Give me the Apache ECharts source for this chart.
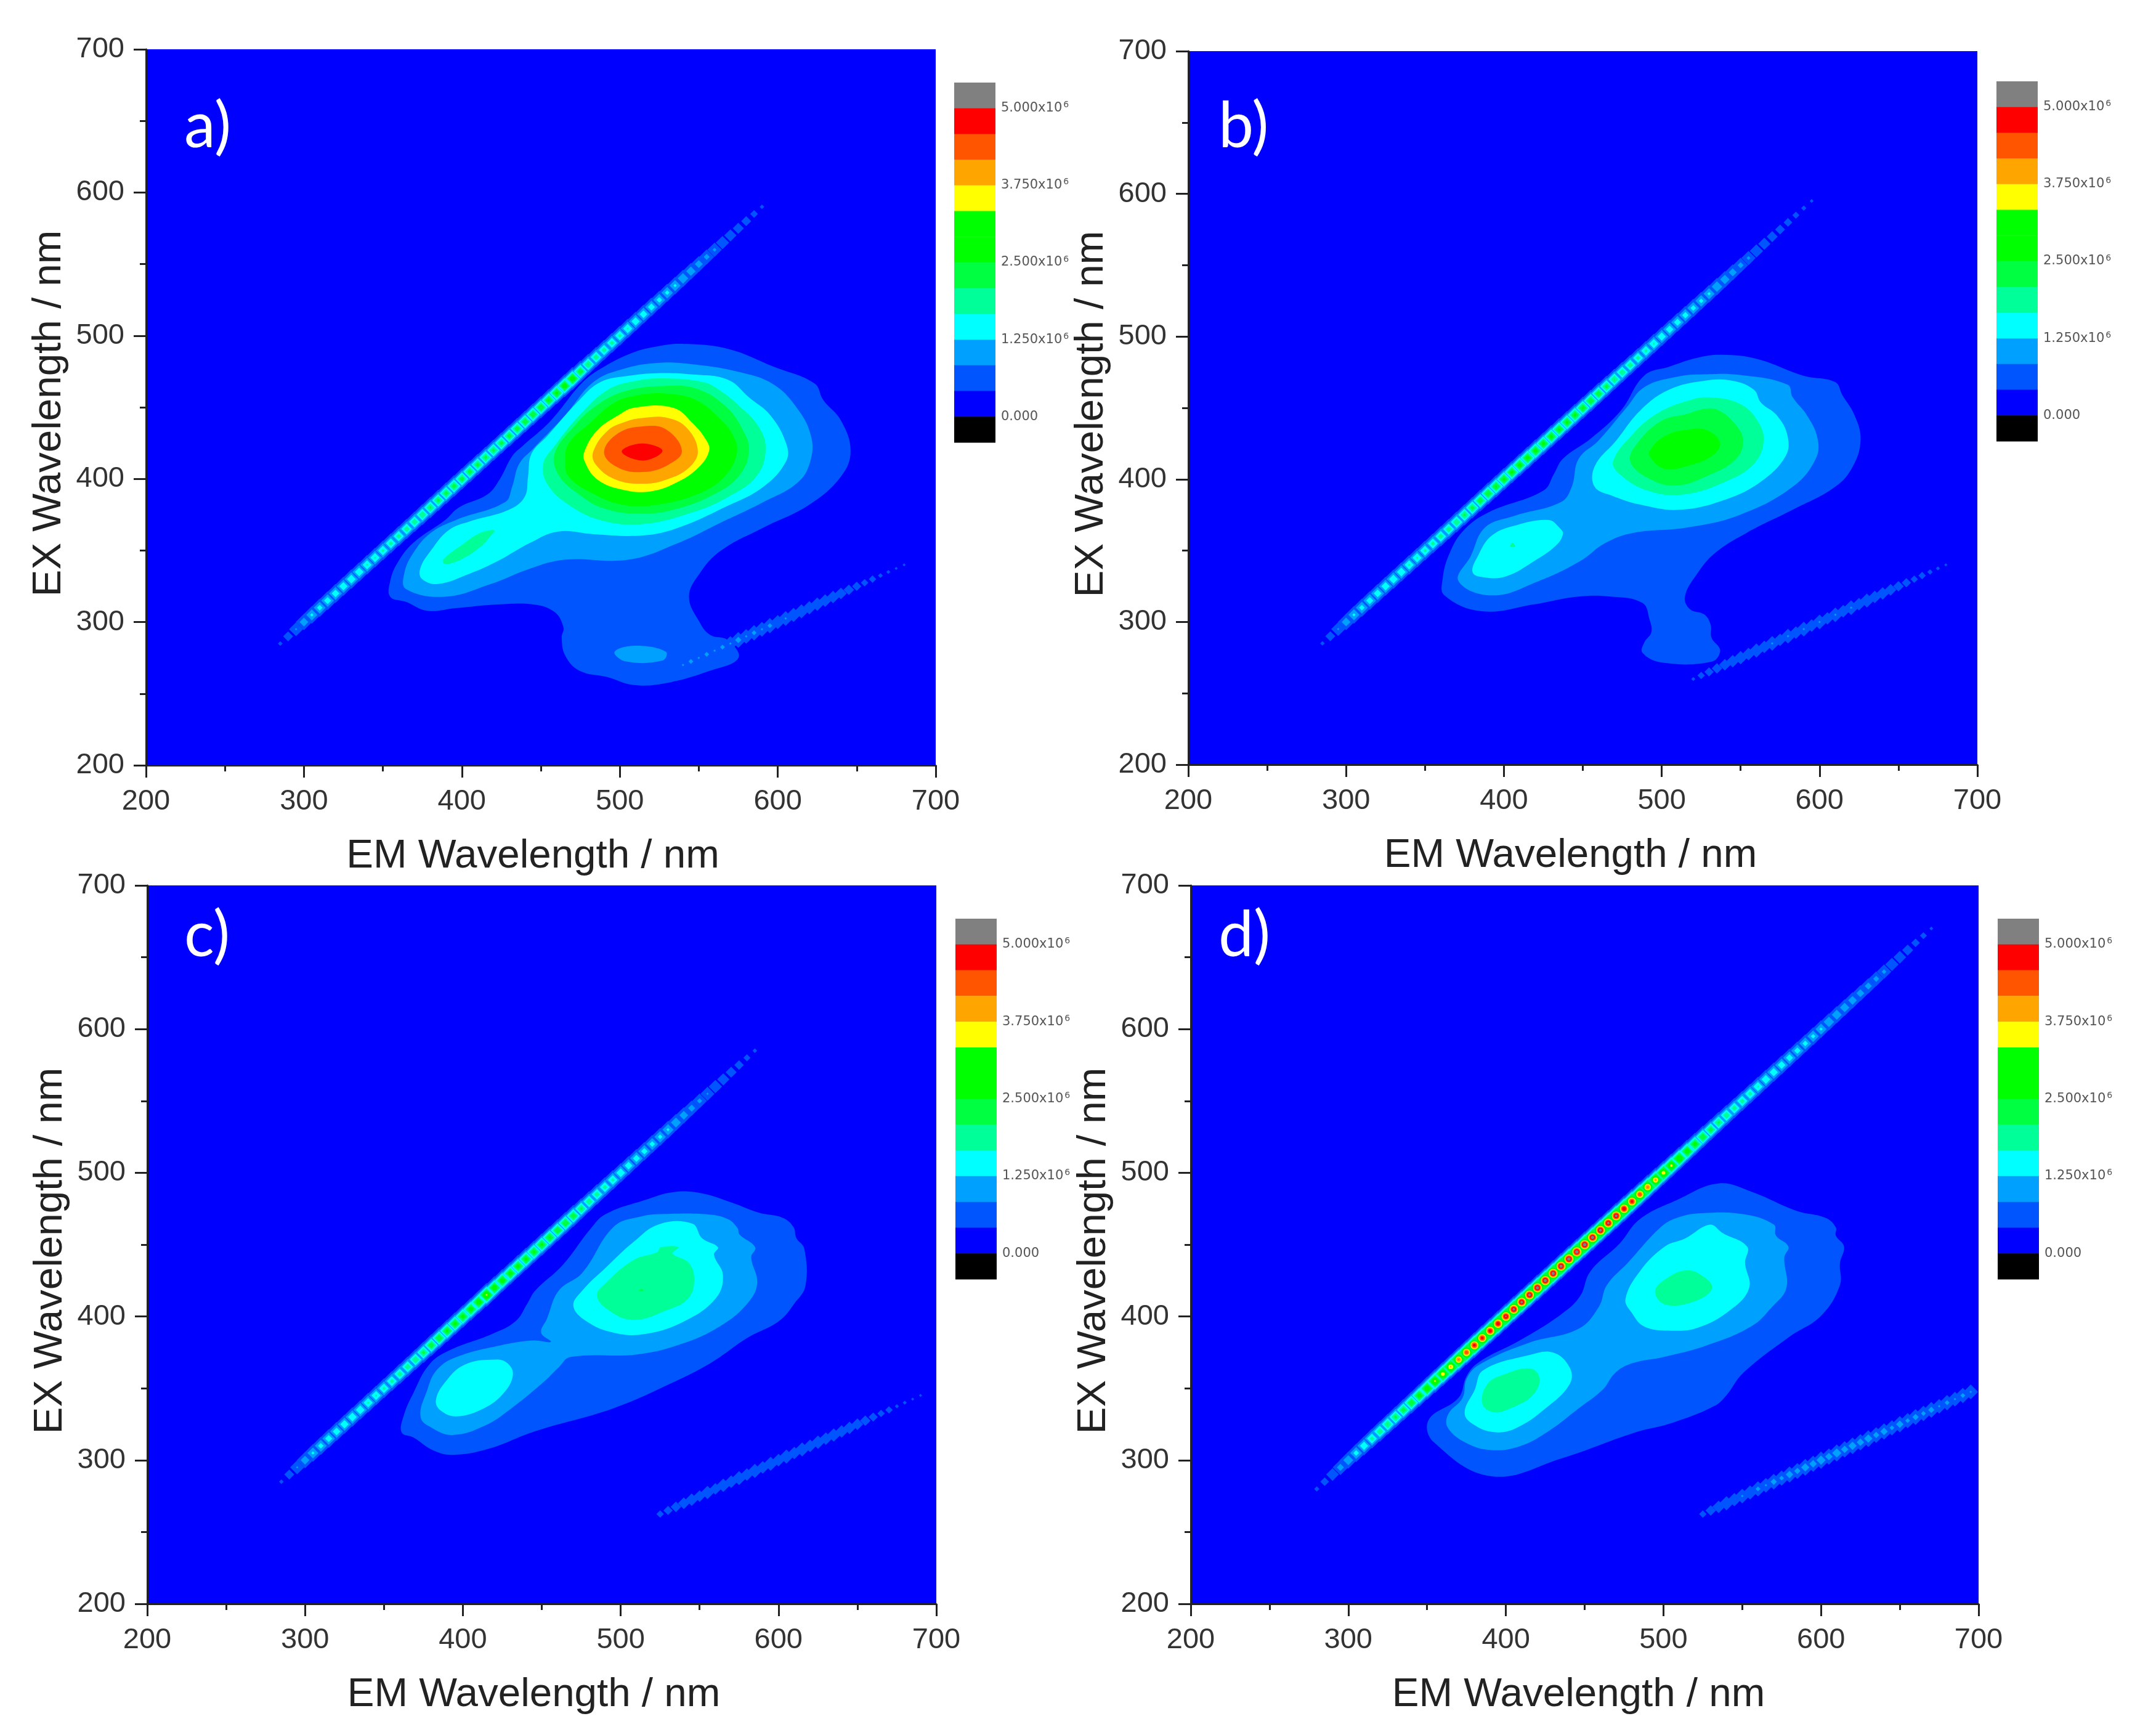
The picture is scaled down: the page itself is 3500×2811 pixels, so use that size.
<!DOCTYPE html>
<html><head><meta charset="utf-8">
<style>html,body{margin:0;padding:0;background:#fff}#c{width:3500px;height:2811px}</style>
<script src="https://cdn.jsdelivr.net/npm/echarts@6/dist/echarts.min.js"></script>
</head><body><div id="c"></div>
<script>
// contour levels (x10^6 counts) and their colours
const levels=[0.4167,0.8333,1.25,1.6667,2.0833,2.5,3.3333,3.75,4.1667,4.5833,5.0];
const levelColors=['#0055ff','#00a0ff','#00ffff','#00ff99','#00ff40','#00ff00','#ffff00','#ffa500','#ff5500','#ff0000','#808080'];
const xTicksTitle='EM Wavelength / nm', yTicksTitle='EX Wavelength / nm';
// colour bar
const barLows=[5,4.5833,4.1667,3.75,3.3333,2.9167,2.5,2.0833,1.6667,1.25,0.8333,0.4167,0,-0.4167];
const barHighs=[5.4167,5,4.5833,4.1667,3.75,3.3333,2.9167,2.5,2.0833,1.6667,1.25,0.8333,0.4167,0];
const barColors=['#808080','#ff0000','#ff5500','#ffa500','#ffff00','#00ff00','#00ff00','#00ff40','#00ff99','#00ffff','#00a0ff','#0055ff','#0000ff','#000000'];
const barTicks=[0,1.25,2.5,3.75,5];
const barTickLabels=['0.000','1.250x10','2.500x10','3.750x10','5.000x10'];

// panel a contours [EM, EX]
const a1=[[539.3,494.3],[568.4,490.8],[597.5,478.3],[623.2,466.7],[628.8,455.1],[640,440.8],[646.1,419.4],[640,401.6],[619.9,381.9],[590.8,365.9],[563.9,349.8],[550.5,333.8],[543.8,317.7],[550.5,299.9],[557.2,291],[568.4,287.4],[575.1,275],[557.2,266],[528.1,257.1],[508,256.2],[492.3,261.5],[474.4,266],[465.4,276.7],[463.2,289.2],[464.3,296.3],[458.7,307],[445.2,312.3],[422.9,312.3],[396,309.7],[378,307.9],[364.6,314.1],[354.6,317.7],[354.6,328.4],[359,340.9],[369.1,355.2],[389.3,371.2],[398.2,380.1],[416.1,389.1],[424,399.8],[431.8,415.8],[438.5,423],[456.4,440.8],[476.6,467.6],[490,478.3],[508,488.1],[523.6,492.5]];
const a2=[[523.6,481],[546,480],[575.1,474.7],[597.5,465.8],[613.2,447.9],[621,430.1],[621,414],[613.2,398],[590.8,383.7],[563.9,369.4],[537,355.2],[505.7,343.6],[465.4,343.6],[443,337.3],[418.4,326.6],[389.3,317.7],[364.6,323.1],[363.5,333.8],[369.1,348],[380.3,362.3],[396,371.2],[427.3,383.7],[431.8,394.4],[436.3,410.5],[445.2,421.2],[465.4,444.4],[483.3,467.6],[501.2,476.5]];
const a2b=[[496.7,279.3],[510.2,283.5],[529.2,279.3],[527,273.1],[503.5,272.6]];
const a3=[[523.6,473.8],[546,472.9],[568.4,469.3],[581.8,456.9],[595.3,444.4],[605.3,424.7],[605.3,412.3],[590.8,394.4],[566.2,380.1],[537,365.9],[514.7,360.5],[483.3,361.4],[460.9,363.2],[443,355.2],[422.9,342.7],[405,333.8],[384.8,326.6],[374.7,330.2],[373.6,337.3],[380.3,349.8],[391.5,364.1],[405,370.3],[429.6,378.4],[439.7,387.3],[441.9,401.6],[444.1,417.6],[454.2,430.1],[474.4,455.1],[487.8,467.6],[505.7,472]];
const a4=[[528.1,470.2],[552.7,467.6],[562.8,462.2],[575.1,451.5],[588.5,435.4],[592.3,419.4],[586.3,401.6],[568.4,387.3],[546,376.6],[514.7,368.5],[487.8,371.2],[467.6,381.9],[454.2,396.2],[451.5,410.5],[458.7,423],[474.4,444.4],[492.3,462.2],[510.2,468.5]];
const a4b=[[420.6,364.1],[411.7,362.3],[400.5,354.3],[388.1,343.6],[389.3,340.5],[399.3,343.6],[411.7,352.5],[418.4,360.5]];
const a5=[[529.2,464.9],[548.2,463.1],[566.2,451.5],[577.3,435.4],[581.8,419.4],[575.1,401.6],[559.4,389.1],[537,379.3],[514.7,375.7],[490,379.3],[472.1,390.8],[460.9,403.3],[458.7,417.6],[469.9,435.4],[485.5,451.5],[503.5,461.3]];
const a6=[[530.3,459.5],[548.2,455.1],[562.8,442.6],[571.8,430.1],[574,417.6],[566.2,401.6],[550.5,390],[523.6,382],[501.2,382],[481.1,390.8],[467.6,401.6],[465.4,412.3],[467.6,424.7],[481.1,439],[496.7,453.3],[512.4,458.6]];
const a7=[[509.1,449.7],[533.7,449.7],[546,439],[555,426.5],[556.5,419.4],[550.5,408.7],[537,398],[519.1,391.2],[501.2,392.6],[485.5,399.8],[477.7,412.3],[477.7,419.4],[485.5,433.7],[499,444.4]];
const a8=[[514.7,442.6],[530.3,442.6],[542.6,435.4],[549.4,419.4],[543.8,407.8],[530.3,399.8],[514.7,396.6],[496.7,399.8],[484.4,410.5],[483.3,419.4],[492.3,433.7],[503.5,439.9]];
const a9=[[514.7,436.7],[529.2,434.6],[539.3,419.4],[530.3,409.6],[514.7,404.8],[499,407.8],[490,418.5],[499,431.9]];
const a10=[[513.5,424.7],[527,419.7],[514.7,412.8],[501.2,419]];

// panel b contours
const b1=[[538.2,487.2],[560.6,484.2],[589.7,472.6],[609.9,468.1],[614.4,459.1],[622.2,444.8],[626,427.8],[621.1,409],[609.9,394.7],[583,378.6],[553.9,362.5],[533.7,348.2],[522.5,333.8],[514.7,317.7],[518,308.8],[527,305.2],[531,298],[531.5,289.1],[537,280.1],[531.5,272.1],[500.1,271.6],[487.8,278.4],[488.9,285.5],[493.4,292.7],[492.3,301.6],[487.8,313.3],[468.7,317.7],[446.3,317.7],[419.4,312.4],[385.8,307.5],[362.3,318.6],[361.2,330.3],[365.6,348.2],[374.6,364.3],[390.3,376.8],[425,392],[431.7,403.7],[437.4,414.4],[455.3,428.7],[474.3,448.4],[488.9,472.6],[504.6,478.8],[522.5,485.1]];
const b2=[[527,473.5],[549.4,473.1],[579.7,466.3],[583,457.4],[592,444.8],[598.7,428.7],[597.6,414.4],[583,394.7],[549.4,375],[515.8,366.1],[482.2,362.5],[464.2,355.3],[448.6,342.8],[421.7,328.5],[392.5,318.6],[371.2,328.8],[379.1,346.4],[388,366.1],[406,374.1],[436.2,384],[443,394.7],[447.4,414.4],[459.8,426.9],[477.7,450.2],[488.9,464.5],[509.1,471.7]];
const b3=[[527,469],[544.9,469],[558.4,462.7],[562.8,453.8],[572.9,444.8],[579.7,430.5],[578.5,416.2],[562.8,398.3],[540.4,385.8],[511.3,378.6],[486.6,382.2],[468.7,388.4],[457.5,394.7],[457.5,409],[471,426.9],[486.6,448.4],[504.6,462.7]];
const b3b=[[428.4,371.4],[435.1,366.1],[437.4,361.6],[432.9,353.5],[419.4,342.8],[401.5,332],[388,331.2],[380.2,334.7],[383.6,346.4],[392.5,360.7],[408.2,367.9]];
const b4=[[529.2,457.4],[549.4,452.9],[560.6,441.2],[564.6,426.9],[558.4,410.8],[540.4,398.3],[513.5,389.3],[491.1,392],[473.2,403.7],[469.2,412.6],[482.2,432.3],[497.9,446.6],[515.8,454.7]];
const b4b=[[404,353],[407,353],[405.5,355.5]];
const b5=[[527,449.3],[536,448.4],[547.2,437.7],[551.6,426.9],[547.2,414.4],[531.5,403.7],[509.1,395.6],[491.1,401],[480,412.6],[484.4,425.1],[500.1,441.2],[515.8,445.7]];
const b6=[[518,435],[529.2,434.1],[537,425.1],[531.5,416.2],[518,409.9],[502.3,407.2],[493.4,414.4],[492.3,419.8],[502.3,430.5]];

// panel c contours
const c1=[[533,486.5],[550.4,485.9],[570.3,479.3],[587.7,472.2],[602.7,468.7],[609.4,462.4],[611.4,454.4],[616.3,447.3],[617.1,421.5],[610.1,409.1],[600.2,396.7],[580.3,385.1],[557.9,368.2],[533,354],[495.6,336.2],[445.9,320.2],[416,307.8],[393.6,303.7],[381.1,306.9],[368.7,315.8],[361.2,319.3],[362.5,330.9],[368.7,346.9],[378.6,366.4],[391.1,376.2],[418.5,387.8],[433.4,396.7],[440.9,409.1],[445.9,418],[463.3,435.8],[480.7,460.7],[490.6,471.3],[515.5,481.1]];
const c2=[[528,471.3],[555.4,471],[567.8,467.8],[574,461.6],[575.3,457.1],[585.2,448.2],[582.7,441.1],[586.5,423.3],[580.3,409.1],[562.8,393.1],[538,380.7],[510.6,373.6],[468.3,371.8],[460.8,364.7],[450.8,354],[430.9,336.2],[413.5,323.8],[393.6,317.5],[381.1,322],[373.2,330],[377.4,348.7],[383.6,362.9],[396.1,371.8],[423.4,379.8],[444.6,383.3],[455.8,382.4],[449.6,388.7],[453.3,398.4],[460.8,418],[475.7,430.4],[495.6,462.4],[513,469.6]];
const c3=[[524.3,464.2],[545.4,464.6],[551.6,454.4],[561.6,448.2],[559.1,442.9],[564.8,428.7],[560.3,412.7],[540.4,396.7],[515.5,387.8],[495.6,388.7],[478.2,396.7],[470,407.3],[475.7,418],[490.6,434],[508.1,451.8]];
const c3b=[[421,370],[428.4,367.3],[431.7,359.3],[426,346.9],[413.5,336.2],[396.1,330.5],[386.1,334.4],[382.9,341.5],[388.6,354],[401,366.4]];
const c4=[[525.5,448.2],[536.7,448.2],[533,443.8],[542.9,437.6],[546.6,426.9],[542.9,412.7],[528,403.8],[508.1,397.6],[493.1,403.8],[484.9,414.4],[490.6,423.3],[508.1,439.3],[523,444.7]];
const c5=[[511.5,417.8],[514.5,417.8],[513,419]];

// panel d contours
const d1=[[534.8,492.6],[555.7,486.9],[584.5,473.5],[602.8,468.7],[609.4,462],[609.4,456.3],[614.6,448.6],[612,437.1],[612,421.8],[600.2,400.7],[579.3,385.4],[550.5,360.6],[540,345.2],[532.2,337.6],[506,326.1],[482.4,319.4],[435.3,301.2],[390.8,288.8],[354.1,312.7],[351,328],[369.9,343.3],[375.1,358.6],[382.9,368.2],[409.1,383.5],[435.3,401.7],[447.1,414.2],[453.6,431.4],[472,450.5],[485,467.7],[508.6,481.1]];
const d2=[[524.3,471.9],[550.5,471.2],[570.1,463.9],[571.4,456.3],[579.3,448.6],[576.7,441],[578,419.9],[568.8,406.5],[555.7,393.1],[526.9,379.7],[500.8,372],[479.8,367.3],[469.3,360.6],[461.5,349.1],[445.8,335.7],[427.4,320.4],[409.1,309.8],[390.8,307],[375.1,311.8],[363.3,322.3],[363.3,331.8],[372.5,343.3],[375.1,356.7],[382.9,366.3],[414.4,381.6],[445.8,391.2],[458.9,406.5],[464.1,421.8],[477.2,437.1],[498.1,462],[508.6,468.7]];
const d3=[[529.5,463.9],[537.4,458.2],[553.1,448.6],[551.8,437.1],[554.4,419.9],[542.6,404.6],[521.7,392.1],[503.4,390.2],[487.7,393.1],[479.8,402.7],[475.9,412.2],[485,431.4],[500.8,448.6],[513.8,454.3]];
const d3b=[[430.1,374.9],[440.5,364.4],[440.5,352.9],[424.8,335.7],[406.5,322.3],[393.4,319.4],[380.3,324.2],[373.8,332.8],[380.3,349.1],[385.6,362.5],[414.4,373]];
const d4=[[513.8,432],[523,429.5],[530.9,419.9],[519.1,410.3],[500.8,408.4],[494.7,418],[503.4,427.5]];
const d4b=[[415.7,363.8],[421.4,356.7],[417,345.2],[403.9,336.6],[392.1,333.4],[385,339.5],[388.2,352.9],[398.6,359.6]];

// peak height of the scatter ridge along EX = EM, one value per 5 nm, and of the second order ridge (EX = EM / 2)
const ridgeStartA=285, ridgeA=[.45,.6,.85,1.1,1.3,1.4,1.5,1.55,1.6,1.65,1.65,1.7,1.7,1.75,1.8,1.85,1.9,1.95,2.05,2.15,2.2,2.25,2.3,2.3,2.3,2.25,2.2,2.2,2.25,2.3,2.35,2.4,2.45,2.5,2.55,2.65,2.85,2.9,2.4,2.1,1.95,1.85,1.8,1.75,1.7,1.6,1.55,1.5,1.4,1.35,1.3,1.25,1.15,1.05,.95,.88,.8,.72,.65,.6,.52,.45];
const ridgeStartB=285, ridgeB=[.45,.6,.85,1.1,1.3,1.4,1.5,1.55,1.6,1.65,1.65,1.7,1.7,1.75,1.8,1.9,1.95,2.05,2.15,2.25,2.4,2.5,2.55,2.6,2.65,2.7,2.7,2.7,2.65,2.65,2.6,2.6,2.6,2.55,2.5,2.4,2.25,2.1,2.0,1.9,1.8,1.75,1.7,1.6,1.55,1.5,1.45,1.4,1.35,1.3,1.25,1.15,1.05,.95,.88,.8,.72,.65,.6,.55,.5,.46,.44];
const ridgeStartC=285, ridgeC=[.45,.6,.85,1.1,1.3,1.4,1.5,1.55,1.6,1.65,1.65,1.7,1.7,1.75,1.8,1.9,1.95,2.05,2.2,2.4,2.5,2.6,2.65,2.7,2.8,2.9,3.4,2.9,2.8,2.7,2.7,2.65,2.6,2.6,2.55,2.5,2.5,2.4,2.15,2.0,1.9,1.8,1.75,1.65,1.55,1.5,1.45,1.4,1.35,1.3,1.2,1.1,1.0,.92,.85,.8,.72,.65,.58,.5,.45];
const ridgeStartD=280, ridgeD=[.46,.55,.75,1.0,1.2,1.4,1.6,1.8,2.0,2.1,2.2,2.3,2.5,2.7,3.0,3.4,3.6,3.8,4.2,4.5,4.8,4.8,4.9,4.95,5.1,5.2,5.2,5.25,5.3,5.3,5.3,5.3,5.35,5.35,5.35,5.3,5.25,5.2,5.2,5.0,4.8,4.5,4.2,3.9,3.6,3.45,3.2,2.9,2.7,2.5,2.3,2.15,2.0,1.9,1.85,1.8,1.7,1.65,1.6,1.55,1.5,1.45,1.4,1.35,1.3,1.25,1.2,1.15,1.1,1.05,1.0,.95,.9,.8,.75,.65,.55,.5,.44];
const stripStartA=535, stripA=[.8,.85,.9,.85,.9,.85,.9,.85,.95,.85,.9,.85,.9,.8,.85,.8,.8,.75,.75,.7,.7,.65,.6,.55,.5,.5,.45,.44,.43,.43];
const stripStartB=520, stripB=[.44,.5,.55,.6,.65,.7,.75,.7,.8,.7,.85,.7,.85,.7,.85,.7,.85,.7,.85,.7,.85,.7,.8,.7,.7,.65,.6,.55,.5,.5,.46,.44,.43];
const stripStartC=525, stripC=[.5,.55,.6,.65,.7,.65,.75,.65,.75,.7,.8,.7,.8,.7,.8,.7,.8,.7,.8,.7,.75,.7,.75,.7,.7,.65,.6,.55,.5,.5,.44,.44,.43,.43];
const stripStartD=525, stripD=[.5,.6,.7,.8,.75,.85,.8,.9,.85,.95,.9,1.0,.95,1.05,1.0,1.1,1.0,1.1,1.0,1.05,1.0,1.05,.95,1.0,.9,1.0,.9,.95,.9,.95,.85,.9,.85,.9,.85];

const panels=[
 {name:'a)',rect:[237,80,1282,1162],bar:[1549,134,67,584],tag:[299,155],xPad:26,
  contours:[[0,a1],[1,a2],[1,a2b],[2,a3],[3,a4],[3,a4b],[4,a5],[5,a6],[6,a7],[7,a8],[8,a9],[9,a10]],ridgeStart:ridgeStartA,ridge:ridgeA,stripStart:stripStartA,strip:stripA},
 {name:'b)',rect:[1929,83,1281,1158],bar:[3241,132,67,584],tag:[1978,155],xPad:40,
  contours:[[0,b1],[1,b2],[2,b3],[2,b3b],[3,b4],[3,b4b],[4,b5],[5,b6]],ridgeStart:ridgeStartB,ridge:ridgeB,stripStart:stripStartB,strip:stripB},
 {name:'c)',rect:[239,1437,1281,1166],bar:[1551,1491,67,585],tag:[299,1468],xPad:26,
  contours:[[0,c1],[1,c2],[2,c3],[2,c3b],[3,c4],[4,c5]],ridgeStart:ridgeStartC,ridge:ridgeC,stripStart:stripStartC,strip:stripC},
 {name:'d)',rect:[1933,1437,1279,1166],bar:[3243,1491,67,585],tag:[1978,1468],xPad:20,
  contours:[[0,d1],[1,d2],[2,d3],[2,d3b],[3,d4],[3,d4b]],ridgeStart:ridgeStartD,ridge:ridgeD,stripStart:stripStartD,strip:stripD}
];

const FONT='Liberation Sans';
const grid=[],xAxis=[],yAxis=[],series=[],title=[];
const lineStyle={color:'#222',width:3};
panels.forEach((p,i)=>{
  grid.push({left:p.rect[0],top:p.rect[1],width:p.rect[2],height:p.rect[3],show:true,backgroundColor:'#0000ff',borderWidth:0});
  xAxis.push({type:'value',gridIndex:i,min:200,max:700,interval:100,z:10,
    name:xTicksTitle,nameLocation:'middle',nameGap:115,nameMoveOverlap:false,
    nameTextStyle:{fontFamily:FONT,fontSize:65.5,color:'#222',padding:[0,p.xPad,0,0]},
    axisLine:{show:true,lineStyle,onZero:false},axisTick:{show:true,length:20,lineStyle},
    minorTick:{show:true,splitNumber:2,length:10,lineStyle},splitLine:{show:false},minorSplitLine:{show:false},
    axisLabel:{show:true,fontFamily:FONT,fontSize:47,color:'#333',margin:36,hideOverlap:false,showMinLabel:true,showMaxLabel:true}});
  yAxis.push({type:'value',gridIndex:i,min:200,max:700,interval:100,z:10,
    name:yTicksTitle,nameLocation:'middle',nameGap:124,nameMoveOverlap:false,
    nameTextStyle:{fontFamily:FONT,fontSize:65.5,color:'#222',padding:[0,20,0,0]},
    axisLine:{show:true,lineStyle,onZero:false},axisTick:{show:true,length:20,lineStyle},
    minorTick:{show:true,splitNumber:2,length:10,lineStyle},splitLine:{show:false},minorSplitLine:{show:false},
    axisLabel:{show:true,fontFamily:FONT,fontSize:47,color:'#333',margin:35,hideOverlap:false,showMinLabel:true,showMaxLabel:true}});
  title.push({text:p.name,left:p.tag[0],top:p.tag[1],z:20,padding:0,textStyle:{color:'#fff',fontFamily:'Lato',fontWeight:'normal',fontSize:102}});
});
panels.forEach((p,i)=>{
  const g=4+i;
  grid.push({left:p.bar[0],top:p.bar[1],width:p.bar[2],height:p.bar[3],show:false});
  xAxis.push({type:'value',gridIndex:g,min:0,max:1,show:false});
  yAxis.push({type:'value',gridIndex:g,min:-0.4167,max:5.4167,position:'right',
    axisLine:{show:false},axisTick:{show:false},splitLine:{show:false},
    axisLabel:{show:true,customValues:barTicks,margin:9,fontFamily:'DejaVu Sans',fontSize:21,color:'#555',hideOverlap:false,showMinLabel:true,showMaxLabel:true,
      formatter:v=>{const s=barTickLabels[barTicks.indexOf(v)];return v===0?s:`{m|${s}}{s|6}`;},
      rich:{m:{fontFamily:'DejaVu Sans',fontSize:21,color:'#555'},s:{fontFamily:'DejaVu Sans',fontSize:14,color:'#555',verticalAlign:'top',padding:[0,0,10,2]}}}});
  series.push({type:'custom',xAxisIndex:g,yAxisIndex:g,silent:true,animation:false,coordinateSystem:'cartesian2d',
    data:barLows.map((lo,k)=>[0,lo,barHighs[k],k]),encode:{x:0,y:1},
    renderItem:(params,api)=>{
      const a=api.coord([0,api.value(2)]),b=api.coord([1,api.value(1)]);
      return {type:'rect',shape:{x:a[0],y:a[1],width:b[0]-a[0],height:b[1]-a[1]+0.5},style:{fill:barColors[api.value(3)]}};
    }});
});
function ridgeSize(val,L,sigma){return 2*sigma*Math.sqrt(2*Math.log(val[2]/L));}
levels.forEach((L,k)=>{
  panels.forEach((p,i)=>{
    p.contours.filter(c=>c[0]===k).forEach(c=>{
      const pts=c[1];
      series.push({type:'custom',xAxisIndex:i,yAxisIndex:i,silent:true,animation:false,clip:true,coordinateSystem:'cartesian2d',z:2,
        data:pts,encode:{x:0,y:1},
        renderItem:(params,api)=>{
          if(params.dataIndex!==0) return;
          return {type:'polygon',shape:{points:pts.map(q=>api.coord(q)),smooth:0.4},style:{fill:levelColors[k]}};
        }});
    });
    const rd=p.ridge.map((v,j)=>[p.ridgeStart+5*j,p.ridgeStart+5*j,v]).filter(d=>d[2]>L);
    if(rd.length) series.push({type:'scatter',xAxisIndex:i,yAxisIndex:i,silent:true,animation:false,z:2,
      symbol:k>=5?'circle':'diamond',data:rd,symbolSize:v=>ridgeSize(v,L,k>=5?7.5:9.5),itemStyle:{color:levelColors[k],opacity:1}});
    const sd=p.strip.map((v,j)=>[p.stripStart+5*j,(p.stripStart+5*j)/2,v]).filter(d=>d[2]>L);
    if(sd.length) series.push({type:'scatter',xAxisIndex:i,yAxisIndex:i,silent:true,animation:false,z:2,
      symbol:'diamond',data:sd,symbolSize:v=>ridgeSize(v,L,10),itemStyle:{color:levelColors[k],opacity:1}});
  });
});
const chart=echarts.init(document.getElementById('c'),null,{renderer:'canvas',width:3500,height:2811});
chart.setOption({animation:false,backgroundColor:'#fff',tooltip:{show:false},title,grid,xAxis,yAxis,series});
</script></body></html>
